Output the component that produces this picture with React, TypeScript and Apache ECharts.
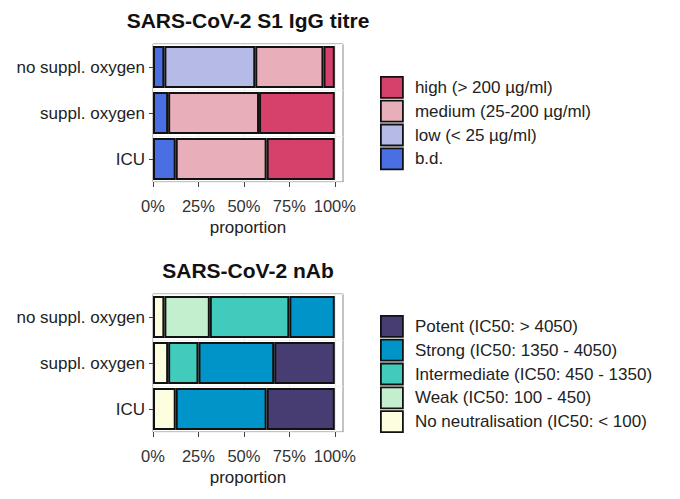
import React, { useEffect, useRef } from 'react';
import * as echarts from 'echarts';

const groups = ['no suppl. oxygen', 'suppl. oxygen', 'ICU'];
const tickValues = [0, 0.25, 0.5, 0.75, 1];

// S1 IgG titre, proportion per group (left to right in the bar)
const iggNames = ['b.d.', 'low (< 25 µg/ml)', 'medium (25-200 µg/ml)', 'high (> 200 µg/ml)'];
const iggColors = ['#4a6fe3', '#b5bae6', '#e8aeba', '#d6416c'];
const iggBd = [0.0625, 0.0833, 0.125];
const iggLow = [0.5, 0, 0];
const iggMedium = [0.375, 0.5, 0.5];
const iggHigh = [0.0625, 0.4167, 0.375];

// nAb, proportion per group
const nabNames = [
  'No neutralisation (IC50: < 100)',
  'Weak (IC50: 100 - 450)',
  'Intermediate (IC50: 450 - 1350)',
  'Strong (IC50: 1350 - 4050)',
  'Potent (IC50: > 4050)',
];
const nabColors = ['#fdfedf', '#c3efcf', '#40cbbd', '#0094c8', '#483d73'];
const nabNone = [0.0625, 0.0833, 0.125];
const nabWeak = [0.25, 0, 0];
const nabIntermediate = [0.4375, 0.1667, 0];
const nabStrong = [0.25, 0.4167, 0.5];
const nabPotent = [0, 0.3333, 0.375];

const FONT = 'Liberation Sans, Arial, sans-serif';

// zero-height segments are left out, like ggplot does
const noZero = (arr: number[]) => arr.map((v) => (v === 0 ? '-' : v));

const App: React.FC = () => {
  const chartRef = useRef<HTMLDivElement>(null);

  useEffect(() => {
    if (!chartRef.current) return;
    const chart = echarts.init(chartRef.current, null, { renderer: 'svg' });

    const xAxisBase = (gridIndex: number) => ({
      type: 'value',
      gridIndex,
      min: 0,
      max: 1.045,
      interval: 0.25,
      name: 'proportion',
      nameLocation: 'middle',
      nameGap: 37,
      nameTextStyle: { color: '#222', fontSize: 17, fontFamily: FONT },
      axisLine: { show: false },
      axisTick: { show: true, length: 5, lineStyle: { color: '#444' }, customValues: tickValues },
      axisLabel: {
        color: '#333',
        fontSize: 16.5,
        fontFamily: FONT,
        margin: 15,
        customValues: tickValues,
        formatter: (v: number) => `${Math.round(v * 100)}%`,
      },
      splitLine: { show: true, lineStyle: { color: '#eeeeee', width: 1 } },
    });

    const yAxisBase = (gridIndex: number) => ({
      type: 'category',
      gridIndex,
      data: groups,
      inverse: true,
      axisLine: { show: false },
      axisTick: { show: true, length: 4, alignWithLabel: true, lineStyle: { color: '#444' } },
      axisLabel: { color: '#222', fontSize: 17, fontFamily: FONT, margin: 8 },
      splitLine: { show: true, lineStyle: { color: '#f2f2f2' } },
    });

    const barBase = {
      type: 'bar',
      barCategoryGap: '9%',
      itemStyle: { borderColor: '#111', borderWidth: 2 },
      emphasis: { disabled: true },
    };

    const iggData = [iggBd, iggLow, iggMedium, iggHigh];
    const nabData = [nabNone, nabWeak, nabIntermediate, nabStrong, nabPotent];

    const series: any[] = [];
    iggNames.forEach((name, i) => {
      series.push({
        ...barBase,
        name,
        stack: 'igg',
        xAxisIndex: 0,
        yAxisIndex: 0,
        data: noZero(iggData[i]),
        itemStyle: { ...barBase.itemStyle, color: iggColors[i] },
      });
    });
    nabNames.forEach((name, i) => {
      series.push({
        ...barBase,
        name,
        stack: 'nab',
        xAxisIndex: 1,
        yAxisIndex: 1,
        data: noZero(nabData[i]),
        itemStyle: { ...barBase.itemStyle, color: nabColors[i] },
      });
    });

    const legendBase = {
      orient: 'vertical',
      left: 380,
      icon: 'rect',
      itemWidth: 22,
      itemHeight: 21,
      itemGap: 1,
      selectedMode: false,
      padding: 0,
      itemStyle: { borderColor: '#111', borderWidth: 1.8 },
      textStyle: { color: '#222', fontSize: 17, lineHeight: 21, fontFamily: FONT, padding: [0, 0, 0, 7] },
    };

    chart.setOption({
      animation: false,
      backgroundColor: '#ffffff',
      grid: [
        { left: 153, top: 44, width: 190, height: 138, show: true, borderColor: '#888', borderWidth: 1, backgroundColor: 'transparent' },
        { left: 153, top: 294, width: 190, height: 138, show: true, borderColor: '#888', borderWidth: 1, backgroundColor: 'transparent' },
      ],
      xAxis: [xAxisBase(0), xAxisBase(1)],
      yAxis: [yAxisBase(0), yAxisBase(1)],
      legend: [
        { ...legendBase, top: 76, data: [...iggNames].reverse() },
        { ...legendBase, top: 315, data: [...nabNames].reverse() },
      ],
      graphic: [
        {
          type: 'text',
          x: 248,
          y: 20,
          style: {
            text: 'SARS-CoV-2 S1 IgG titre',
            fontSize: 21,
            fontWeight: 'bold',
            fontFamily: FONT,
            fill: '#111',
            align: 'center',
            verticalAlign: 'middle',
          },
        },
        {
          type: 'text',
          x: 248,
          y: 270,
          style: {
            text: 'SARS-CoV-2 nAb',
            fontSize: 21,
            fontWeight: 'bold',
            fontFamily: FONT,
            fill: '#111',
            align: 'center',
            verticalAlign: 'middle',
          },
        },
      ],
      series,
    });

    return () => {
      chart.dispose();
    };
  }, []);

  return <div ref={chartRef} style={{ position: 'fixed', left: 0, top: 0, width: 680, height: 499 }} />;
};

export default App;
